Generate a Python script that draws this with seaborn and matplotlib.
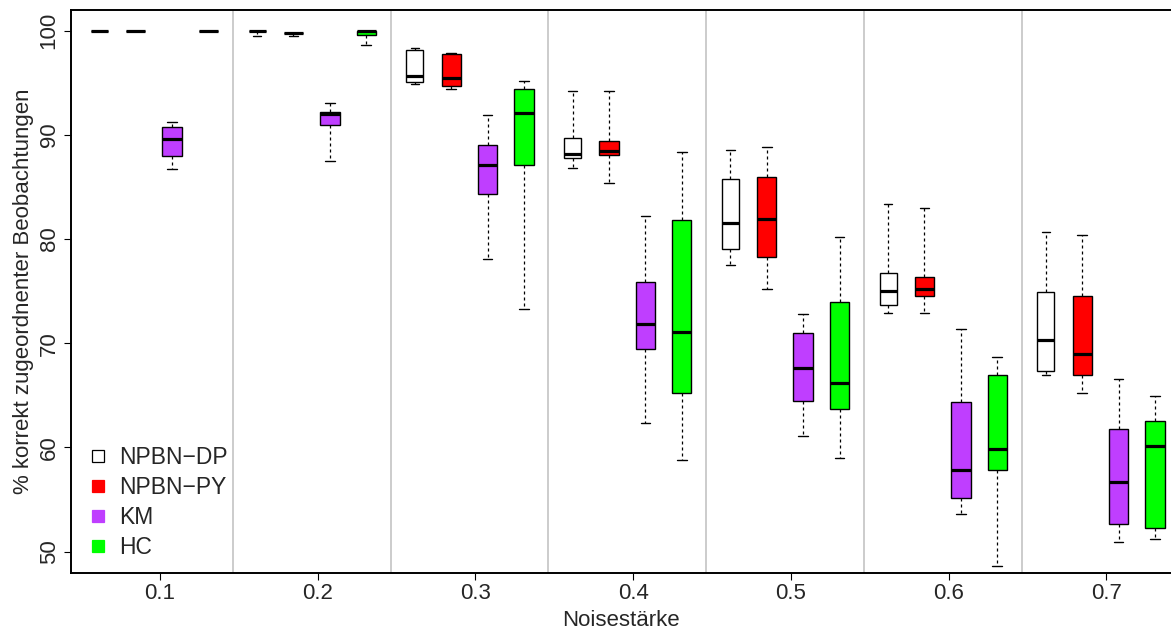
import numpy as np
import pandas as pd
import matplotlib
matplotlib.use("Agg")
import matplotlib.pyplot as plt
import seaborn as sns
from matplotlib.lines import Line2D

# ---------------- data ----------------
noise_levels = ["0.1", "0.2", "0.3", "0.4", "0.5", "0.6", "0.7"]
methods = ["NPBN\u2212DP", "NPBN\u2212PY", "KM", "HC"]

# each box: [lower whisker, Q1, median, Q3, upper whisker]
npbn_dp = [
    [100.0, 100.0, 100.0, 100.0, 100.0],
    [99.45, 99.97, 100.0, 100.0, 100.0],
    [94.88, 95.05, 95.65, 98.15, 98.37],
    [86.79, 87.78, 88.17, 89.73, 94.18],
    [77.51, 79.02, 81.57, 85.74, 88.55],
    [72.94, 73.70, 74.99, 76.78, 83.34],
    [66.99, 67.31, 70.27, 74.89, 80.68],
]
npbn_py = [
    [99.94, 99.94, 99.94, 99.94, 99.94],
    [99.45, 99.78, 99.80, 99.82, 99.82],
    [94.38, 94.66, 95.46, 97.73, 97.83],
    [85.38, 88.10, 88.46, 89.44, 94.18],
    [75.24, 78.25, 81.93, 85.93, 88.80],
    [72.88, 74.54, 75.24, 76.39, 83.01],
    [65.26, 66.96, 68.98, 74.57, 80.39],
]
km = [
    [86.76, 88.00, 89.64, 90.73, 91.27],
    [87.50, 90.92, 92.00, 92.17, 93.06],
    [78.12, 84.36, 87.14, 89.03, 91.88],
    [62.32, 69.45, 71.85, 75.91, 82.19],
    [61.10, 64.50, 67.66, 70.96, 72.81],
    [53.62, 55.18, 57.87, 64.40, 71.34],
    [50.93, 52.63, 56.69, 61.78, 66.60],
]
hc = [
    [100.0, 100.0, 100.0, 100.0, 100.0],
    [98.60, 99.55, 100.0, 100.0, 100.0],
    [73.29, 87.14, 92.07, 94.43, 95.14],
    [58.80, 65.26, 71.11, 81.83, 88.39],
    [58.96, 63.67, 66.19, 73.97, 80.23],
    [48.66, 57.81, 59.86, 66.93, 68.66],
    [51.25, 52.25, 60.17, 62.51, 64.94],
]
series_values = [npbn_dp, npbn_py, km, hc]

# ---------------- styling ----------------
colors = ["#FFFFFF", "#FF0000", "#BF3EFF", "#00FF00"]
offsets = [-5 / 13, -2 / 13, 1 / 13, 4 / 13]
box_widths = [0.108, 0.123, 0.123, 0.123]

rows = []
for m, vals in zip(methods, series_values):
    for gi, box in enumerate(vals):
        for v in box:
            rows.append({"method": m, "group": gi, "value": v})
df = pd.DataFrame(rows)

sns.set_style("white")
plt.rcParams["font.family"] = ["Liberation Sans", "DejaVu Sans"]
plt.rcParams["font.size"] = 16

W, H = 1171, 630
fig = plt.figure(figsize=(W / 100, H / 100), dpi=100)
ax_l, ax_r, ax_t, ax_b = 70.7, 1172.0, 9.7, 572.7
ax = fig.add_axes([ax_l / W, (H - ax_b) / H, (ax_r - ax_l) / W, (ax_b - ax_t) / H])

# group separators
for k in range(len(noise_levels) - 1):
    ax.axvline(k + 6 / 13, color="#BEBEBE", lw=1.1, zorder=0)

for m, off, w, c in zip(methods, offsets, box_widths, colors):
    sub = df[df["method"] == m].copy()
    sub["pos"] = sub["group"] + off
    sns.boxplot(
        data=sub, x="pos", y="value", orient="x", native_scale=True,
        width=w, color=c, saturation=1, whis=np.inf, fliersize=0,
        linecolor="black", linewidth=1.0, ax=ax,
        medianprops=dict(linewidth=2.3, color="black"),
        whiskerprops=dict(linestyle=(0, (2.4, 2.4)), linewidth=0.9, color="black"),
        capprops=dict(linewidth=1.0, color="black"),
    )

x_left = (ax_l - 160.0) / 157.75
x_right = (ax_r - 160.0) / 157.75
ax.set_xlim(x_left, x_right)
ax.set_ylim(47.98, 102.02)

ax.set_xticks(range(len(noise_levels)))
ax.set_xticklabels(noise_levels)
ax.set_yticks([50, 60, 70, 80, 90, 100])
ax.set_yticklabels(["50", "60", "70", "80", "90", "100"])

ax.tick_params(axis="both", direction="out", length=5, width=0.8, color="black",
               labelsize=16, left=True, bottom=True)
ax.tick_params(axis="x", pad=2.5)
ax.tick_params(axis="y", labelrotation=90, pad=3)
for lab in ax.get_yticklabels():
    lab.set_va("center")

for side in ["left", "bottom", "top"]:
    ax.spines[side].set_visible(True)
    ax.spines[side].set_color("black")
    ax.spines[side].set_linewidth(1.4)
ax.spines["right"].set_visible(False)

ax.set_xlabel("Noisest\u00e4rke", fontsize=16, labelpad=4)
ax.set_ylabel("% korrekt zugeordnenter Beobachtungen", fontsize=16)
ax.yaxis.set_label_coords(-0.033, 0.5)

handles = []
for c, m in zip(colors, methods):
    handles.append(Line2D([], [], marker="s", linestyle="none", markersize=8,
                          markerfacecolor=c,
                          markeredgecolor="black" if c == "#FFFFFF" else c,
                          markeredgewidth=0.9))
leg = ax.legend(handles, methods, loc="center left",
                bbox_to_anchor=(86.5 / W, (H - 502.5) / H),
                bbox_transform=fig.transFigure, frameon=False, fontsize=16.5,
                handlelength=0.97, handletextpad=0.46, borderpad=0,
                borderaxespad=0, labelspacing=0.31)

fig.savefig("out.png", dpi=100)
